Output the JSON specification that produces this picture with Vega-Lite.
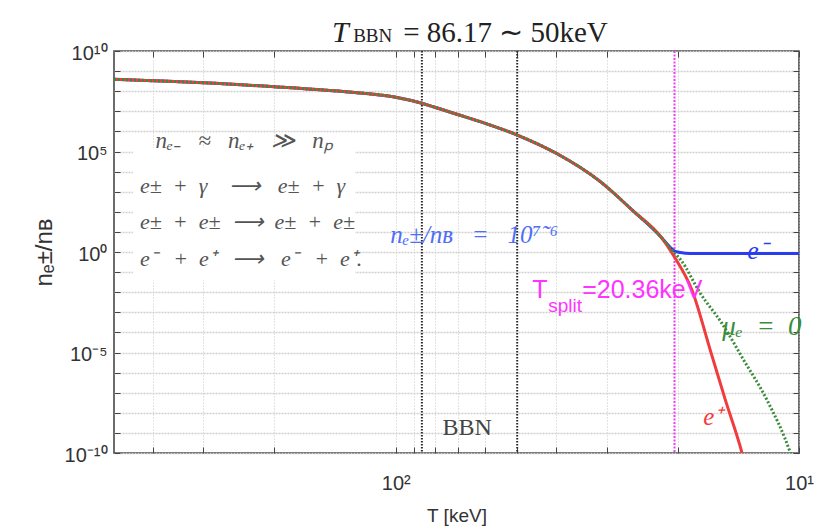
{
  "$schema": "https://vega.github.io/schema/vega-lite/v6.json",
  "width": 685,
  "height": 402,
  "autosize": "none",
  "padding": {"left": 114, "top": 51, "right": 20, "bottom": 78},
  "background": "white",
  "config": {"view": {"stroke": "#3c3c3c", "strokeWidth": 1.5}},
  "datasets": {
    "curves": [
      {"series": "eminus", "T": 500, "n": 3.89e8}, {"series": "eminus", "T": 400, "n": 3.31e8}, {"series": "eminus", "T": 300, "n": 2.63e8}, {"series": "eminus", "T": 200, "n": 1.66e8}, {"series": "eminus", "T": 135, "n": 9.55e7}, {"series": "eminus", "T": 100, "n": 5.01e7}, {"series": "eminus", "T": 86.17, "n": 2.51e7}, {"series": "eminus", "T": 80, "n": 1.585e7}, {"series": "eminus", "T": 70, "n": 6.76e6}, {"series": "eminus", "T": 60, "n": 2.51e6}, {"series": "eminus", "T": 50, "n": 6.61e5}, {"series": "eminus", "T": 40, "n": 8.13e4}, {"series": "eminus", "T": 31.1, "n": 3.16e3}, {"series": "eminus", "T": 25.8, "n": 112}, {"series": "eminus", "T": 22.0, "n": 5.62},
      {"series": "eminus", "T": 20.86, "n": 1.7}, {"series": "eminus", "T": 20.36, "n": 1.12}, {"series": "eminus", "T": 19.7, "n": 0.955}, {"series": "eminus", "T": 18.6, "n": 0.851}, {"series": "eminus", "T": 10, "n": 0.851},
      {"series": "eplus", "T": 500, "n": 3.89e8}, {"series": "eplus", "T": 400, "n": 3.31e8}, {"series": "eplus", "T": 300, "n": 2.63e8}, {"series": "eplus", "T": 200, "n": 1.66e8}, {"series": "eplus", "T": 135, "n": 9.55e7}, {"series": "eplus", "T": 100, "n": 5.01e7}, {"series": "eplus", "T": 86.17, "n": 2.51e7}, {"series": "eplus", "T": 80, "n": 1.585e7}, {"series": "eplus", "T": 70, "n": 6.76e6}, {"series": "eplus", "T": 60, "n": 2.51e6}, {"series": "eplus", "T": 50, "n": 6.61e5}, {"series": "eplus", "T": 40, "n": 8.13e4}, {"series": "eplus", "T": 31.1, "n": 3.16e3}, {"series": "eplus", "T": 25.8, "n": 112}, {"series": "eplus", "T": 22.0, "n": 5.62},
      {"series": "eplus", "T": 20.36, "n": 0.562}, {"series": "eplus", "T": 18.43, "n": 0.0129}, {"series": "eplus", "T": 16.6, "n": 1.32e-5}, {"series": "eplus", "T": 15.23, "n": 4.37e-8}, {"series": "eplus", "T": 13.85, "n": 1.02e-10}, {"series": "eplus", "T": 13.6, "n": 2.5e-11},
      {"series": "mu0", "T": 500, "n": 3.89e8}, {"series": "mu0", "T": 400, "n": 3.31e8}, {"series": "mu0", "T": 300, "n": 2.63e8}, {"series": "mu0", "T": 200, "n": 1.66e8}, {"series": "mu0", "T": 135, "n": 9.55e7}, {"series": "mu0", "T": 100, "n": 5.01e7}, {"series": "mu0", "T": 86.17, "n": 2.51e7}, {"series": "mu0", "T": 80, "n": 1.585e7}, {"series": "mu0", "T": 70, "n": 6.76e6}, {"series": "mu0", "T": 60, "n": 2.51e6}, {"series": "mu0", "T": 50, "n": 6.61e5}, {"series": "mu0", "T": 40, "n": 8.13e4}, {"series": "mu0", "T": 31.1, "n": 3.16e3}, {"series": "mu0", "T": 25.8, "n": 112}, {"series": "mu0", "T": 22.0, "n": 5.62},
      {"series": "mu0", "T": 20.36, "n": 0.891}, {"series": "mu0", "T": 19.7, "n": 0.437}, {"series": "mu0", "T": 17.58, "n": 8.91e-3}, {"series": "mu0", "T": 15.53, "n": 2.82e-4}, {"series": "mu0", "T": 13.72, "n": 4.27e-6}, {"series": "mu0", "T": 12.01, "n": 4.37e-8}, {"series": "mu0", "T": 10.51, "n": 1.02e-10}, {"series": "mu0", "T": 10.3, "n": 3e-11}
    ],
    "vlines": [{"T": 86.17, "kind": "BBN"}, {"T": 50, "kind": "BBN"}, {"T": 20.36, "kind": "split"}],
    "box": [{"T1": 448.7, "T2": 126.2, "n1": 1.49e5, "n2": 0.04}],
    "notes": [
      {"id": "t1", "T": 143.9, "n": 7.94e10, "text": "T"},
      {"id": "t2", "T": 127.6, "n": 5.62e10, "text": "BBN"},
      {"id": "t3", "T": 95.9, "n": 7.94e10, "text": "= 86.17 ∼ 50keV"},
      {"id": "box1", "T": 237.9, "n": 3.33e5, "text": "nₑ₋\u00a0\u00a0\u00a0≈\u00a0\u00a0\u00a0nₑ₊\u00a0\u00a0\u00a0≫\u00a0\u00a0\u00a0nₚ"},
      {"id": "box2", "T": 431, "n": 1920, "text": "e±\u00a0\u00a0+\u00a0\u00a0γ\u00a0\u00a0\u00a0\u00a0⟶\u00a0\u00a0\u00a0e±\u00a0\u00a0+\u00a0\u00a0γ"},
      {"id": "box3", "T": 431, "n": 31.1, "text": "e±\u00a0\u00a0+\u00a0\u00a0e±\u00a0\u00a0⟶\u00a0\u00a0e±\u00a0\u00a0+\u00a0\u00a0e±"},
      {"id": "box4", "T": 431, "n": 0.449, "text": "e⁻\u00a0\u00a0\u00a0+\u00a0\u00a0e⁺\u00a0\u00a0\u00a0⟶\u00a0\u00a0\u00a0e⁻\u00a0\u00a0\u00a0+\u00a0\u00a0e⁺."},
      {"id": "ratio", "T": 103.3, "n": 7.0, "text": "nₑ±/nʙ\u00a0\u00a0\u00a0=\u00a0\u00a0\u00a010⁷˜⁶"},
      {"id": "bbn", "T": 66.5, "n": 1.75e-9, "text": "BBN"},
      {"id": "sT", "T": 45.9, "n": 0.0129, "text": "T"},
      {"id": "ss", "T": 41.9, "n": 0.00206, "text": "split"},
      {"id": "sv", "T": 34.5, "n": 0.0129, "text": "=20.36keV"},
      {"id": "em", "T": 13.44, "n": 1.12, "text": "e⁻"},
      {"id": "mu", "T": 15.5, "n": 1.86e-4, "text": "μₑ\u00a0\u00a0=\u00a0\u00a00"},
      {"id": "ep", "T": 17.28, "n": 6.17e-9, "text": "e⁺"}
    ]
  },
  "layer": [
    {
      "data": {"name": "box"},
      "mark": {"type": "rect", "fill": "white", "stroke": null},
      "encoding": {
        "x": {"field": "T1", "type": "quantitative", "scale": {"type": "log", "domain": [10, 500], "reverse": true, "nice": false}, "axis": null},
        "x2": {"field": "T2"},
        "y": {"field": "n1", "type": "quantitative", "scale": {"type": "log", "domain": [1e-10, 1e10], "nice": false}, "axis": null},
        "y2": {"field": "n2"}
      }
    },
    {
      "data": {"name": "vlines"},
      "transform": [{"filter": "datum.kind == 'BBN'"}],
      "mark": {"type": "rule", "color": "#2a2a2a", "strokeWidth": 2, "strokeDash": [1.5, 1.5]},
      "encoding": {
        "x": {"field": "T", "type": "quantitative", "scale": {"type": "log", "domain": [10, 500], "reverse": true, "nice": false}, "axis": null}
      }
    },
    {
      "data": {"name": "vlines"},
      "transform": [{"filter": "datum.kind == 'split'"}],
      "mark": {"type": "rule", "color": "#f03cf0", "strokeWidth": 2, "strokeDash": [2, 1.5]},
      "encoding": {
        "x": {"field": "T", "type": "quantitative", "scale": {"type": "log", "domain": [10, 500], "reverse": true, "nice": false}, "axis": null}
      }
    },
    {
      "data": {"name": "curves"},
      "transform": [{"filter": "datum.series == 'eminus'"}],
      "mark": {"type": "line", "color": "#2a3cf0", "strokeWidth": 3, "interpolate": "monotone", "clip": true},
      "encoding": {
        "x": {"field": "T", "type": "quantitative", "scale": {"type": "log", "domain": [10, 500], "reverse": true, "nice": false},
          "axis": {"orient": "bottom", "values": [10, 20, 30, 40, 50, 60, 70, 80, 90, 100, 200, 300, 400],
            "labelExpr": "datum.value == 100 ? '10²' : datum.value == 10 ? '10¹' : ''",
            "labelFont": "Liberation Sans", "labelFontSize": 20, "labelColor": "#333", "labelOverlap": false, "labelFlush": false,
            "labelPadding": 26, "tickSize": -6, "tickColor": "#444", "tickWidth": 1, "domain": false,
            "grid": true, "gridColor": "#c4c4c4", "gridDash": [1, 2], "gridWidth": 1,
            "title": "T [keV]", "titleFont": "Liberation Sans", "titleFontSize": 19, "titleFontWeight": "normal", "titleColor": "#333", "titlePadding": 13}},
        "y": {"field": "n", "type": "quantitative", "scale": {"type": "log", "domain": [1e-10, 1e10], "nice": false},
          "axis": {"orient": "left", "values": [1e-10, 1e-9, 1e-8, 1e-7, 1e-6, 1e-5, 1e-4, 1e-3, 1e-2, 1e-1, 1, 10, 100, 1e3, 1e4, 1e5, 1e6, 1e7, 1e8, 1e9, 1e10],
            "labelExpr": "datum.value == 1e10 ? '10¹⁰' : datum.value == 1e5 ? '10⁵' : datum.value == 1 ? '10⁰' : datum.value == 1e-5 ? '10⁻⁵' : datum.value == 1e-10 ? '10⁻¹⁰' : ''",
            "labelFont": "Liberation Sans", "labelFontSize": 20, "labelColor": "#333", "labelOverlap": false, "labelFlush": false,
            "labelPadding": 13, "labelOffset": 2, "tickSize": -6, "tickColor": "#444", "tickWidth": 1, "domain": false,
            "grid": true, "gridColor": "#d0d0d0", "gridDash": [2, 1], "gridWidth": 1.5,
            "title": "nₑ±/nʙ", "titleFont": "Liberation Sans", "titleFontSize": 24, "titleFontWeight": "normal", "titleColor": "#333", "titlePadding": 8}}
      }
    },
    {
      "data": {"name": "curves"},
      "transform": [{"filter": "datum.series == 'eplus'"}],
      "mark": {"type": "line", "color": "#f03c3c", "strokeWidth": 3, "interpolate": "monotone", "clip": true},
      "encoding": {
        "x": {"field": "T", "type": "quantitative", "scale": {"type": "log", "domain": [10, 500], "reverse": true, "nice": false},
          "axis": {"orient": "top", "values": [10, 20, 30, 40, 50, 60, 70, 80, 90, 100, 200, 300, 400], "labels": false, "tickSize": -6, "tickColor": "#444", "domain": false, "grid": false, "title": null}},
        "y": {"field": "n", "type": "quantitative", "scale": {"type": "log", "domain": [1e-10, 1e10], "nice": false},
          "axis": {"orient": "right", "values": [1e-10, 1e-9, 1e-8, 1e-7, 1e-6, 1e-5, 1e-4, 1e-3, 1e-2, 1e-1, 1, 10, 100, 1e3, 1e4, 1e5, 1e6, 1e7, 1e8, 1e9, 1e10], "labels": false, "tickSize": -6, "tickColor": "#444", "domain": false, "grid": false, "title": null}}
      }
    },
    {
      "data": {"name": "curves"},
      "transform": [{"filter": "datum.series == 'mu0'"}],
      "mark": {"type": "line", "color": "#3a8c3a", "strokeWidth": 3, "strokeDash": [2, 2], "interpolate": "monotone", "clip": true},
      "encoding": {
        "x": {"field": "T", "type": "quantitative", "scale": {"type": "log", "domain": [10, 500], "reverse": true, "nice": false}, "axis": null},
        "y": {"field": "n", "type": "quantitative", "scale": {"type": "log", "domain": [1e-10, 1e10], "nice": false}, "axis": null}
      }
    },
    {
      "data": {"name": "notes"},
      "transform": [{"filter": "datum.id == 't1'"}],
      "mark": {"type": "text", "align": "left", "font": "Liberation Serif", "fontStyle": "italic", "fontSize": 30, "color": "#222"},
      "encoding": {
        "x": {"field": "T", "type": "quantitative", "scale": {"type": "log", "domain": [10, 500], "reverse": true, "nice": false}, "axis": null},
        "y": {"field": "n", "type": "quantitative", "scale": {"type": "log", "domain": [1e-10, 1e10], "nice": false}, "axis": null},
        "text": {"field": "text"}
      }
    },
    {
      "data": {"name": "notes"},
      "transform": [{"filter": "datum.id == 't2'"}],
      "mark": {"type": "text", "align": "left", "font": "Liberation Serif", "fontSize": 19, "color": "#222"},
      "encoding": {
        "x": {"field": "T", "type": "quantitative", "scale": {"type": "log", "domain": [10, 500], "reverse": true, "nice": false}, "axis": null},
        "y": {"field": "n", "type": "quantitative", "scale": {"type": "log", "domain": [1e-10, 1e10], "nice": false}, "axis": null},
        "text": {"field": "text"}
      }
    },
    {
      "data": {"name": "notes"},
      "transform": [{"filter": "datum.id == 't3'"}],
      "mark": {"type": "text", "align": "left", "font": "Liberation Serif", "fontSize": 29, "color": "#222"},
      "encoding": {
        "x": {"field": "T", "type": "quantitative", "scale": {"type": "log", "domain": [10, 500], "reverse": true, "nice": false}, "axis": null},
        "y": {"field": "n", "type": "quantitative", "scale": {"type": "log", "domain": [1e-10, 1e10], "nice": false}, "axis": null},
        "text": {"field": "text"}
      }
    },
    {
      "data": {"name": "notes"},
      "transform": [{"filter": "datum.id == 'box1'"}],
      "mark": {"type": "text", "align": "center", "font": "Liberation Serif", "fontStyle": "italic", "fontSize": 23, "color": "#555"},
      "encoding": {
        "x": {"field": "T", "type": "quantitative", "scale": {"type": "log", "domain": [10, 500], "reverse": true, "nice": false}, "axis": null},
        "y": {"field": "n", "type": "quantitative", "scale": {"type": "log", "domain": [1e-10, 1e10], "nice": false}, "axis": null},
        "text": {"field": "text"}
      }
    },
    {
      "data": {"name": "notes"},
      "transform": [{"filter": "indexof(['box2','box3','box4'], datum.id) >= 0"}],
      "mark": {"type": "text", "align": "left", "font": "Liberation Serif", "fontStyle": "italic", "fontSize": 22, "color": "#555"},
      "encoding": {
        "x": {"field": "T", "type": "quantitative", "scale": {"type": "log", "domain": [10, 500], "reverse": true, "nice": false}, "axis": null},
        "y": {"field": "n", "type": "quantitative", "scale": {"type": "log", "domain": [1e-10, 1e10], "nice": false}, "axis": null},
        "text": {"field": "text"}
      }
    },
    {
      "data": {"name": "notes"},
      "transform": [{"filter": "datum.id == 'ratio'"}],
      "mark": {"type": "text", "align": "left", "font": "Liberation Serif", "fontStyle": "italic", "fontSize": 25, "color": "#4f6ef7"},
      "encoding": {
        "x": {"field": "T", "type": "quantitative", "scale": {"type": "log", "domain": [10, 500], "reverse": true, "nice": false}, "axis": null},
        "y": {"field": "n", "type": "quantitative", "scale": {"type": "log", "domain": [1e-10, 1e10], "nice": false}, "axis": null},
        "text": {"field": "text"}
      }
    },
    {
      "data": {"name": "notes"},
      "transform": [{"filter": "datum.id == 'bbn'"}],
      "mark": {"type": "text", "align": "center", "font": "Liberation Serif", "fontSize": 24, "color": "#444"},
      "encoding": {
        "x": {"field": "T", "type": "quantitative", "scale": {"type": "log", "domain": [10, 500], "reverse": true, "nice": false}, "axis": null},
        "y": {"field": "n", "type": "quantitative", "scale": {"type": "log", "domain": [1e-10, 1e10], "nice": false}, "axis": null},
        "text": {"field": "text"}
      }
    },
    {
      "data": {"name": "notes"},
      "transform": [{"filter": "datum.id == 'sT' || datum.id == 'sv'"}],
      "mark": {"type": "text", "align": "left", "font": "Liberation Sans", "fontSize": 25, "color": "#ff33ff"},
      "encoding": {
        "x": {"field": "T", "type": "quantitative", "scale": {"type": "log", "domain": [10, 500], "reverse": true, "nice": false}, "axis": null},
        "y": {"field": "n", "type": "quantitative", "scale": {"type": "log", "domain": [1e-10, 1e10], "nice": false}, "axis": null},
        "text": {"field": "text"}
      }
    },
    {
      "data": {"name": "notes"},
      "transform": [{"filter": "datum.id == 'ss'"}],
      "mark": {"type": "text", "align": "left", "font": "Liberation Sans", "fontSize": 19, "color": "#ff33ff"},
      "encoding": {
        "x": {"field": "T", "type": "quantitative", "scale": {"type": "log", "domain": [10, 500], "reverse": true, "nice": false}, "axis": null},
        "y": {"field": "n", "type": "quantitative", "scale": {"type": "log", "domain": [1e-10, 1e10], "nice": false}, "axis": null},
        "text": {"field": "text"}
      }
    },
    {
      "data": {"name": "notes"},
      "transform": [{"filter": "datum.id == 'em'"}],
      "mark": {"type": "text", "align": "left", "font": "Liberation Serif", "fontStyle": "italic", "fontSize": 26, "color": "#2a3cf0"},
      "encoding": {
        "x": {"field": "T", "type": "quantitative", "scale": {"type": "log", "domain": [10, 500], "reverse": true, "nice": false}, "axis": null},
        "y": {"field": "n", "type": "quantitative", "scale": {"type": "log", "domain": [1e-10, 1e10], "nice": false}, "axis": null},
        "text": {"field": "text"}
      }
    },
    {
      "data": {"name": "notes"},
      "transform": [{"filter": "datum.id == 'mu'"}],
      "mark": {"type": "text", "align": "left", "font": "Liberation Serif", "fontStyle": "italic", "fontSize": 27, "color": "#3a8c3a"},
      "encoding": {
        "x": {"field": "T", "type": "quantitative", "scale": {"type": "log", "domain": [10, 500], "reverse": true, "nice": false}, "axis": null},
        "y": {"field": "n", "type": "quantitative", "scale": {"type": "log", "domain": [1e-10, 1e10], "nice": false}, "axis": null},
        "text": {"field": "text"}
      }
    },
    {
      "data": {"name": "notes"},
      "transform": [{"filter": "datum.id == 'ep'"}],
      "mark": {"type": "text", "align": "left", "font": "Liberation Serif", "fontStyle": "italic", "fontSize": 25, "color": "#f03c3c"},
      "encoding": {
        "x": {"field": "T", "type": "quantitative", "scale": {"type": "log", "domain": [10, 500], "reverse": true, "nice": false}, "axis": null},
        "y": {"field": "n", "type": "quantitative", "scale": {"type": "log", "domain": [1e-10, 1e10], "nice": false}, "axis": null},
        "text": {"field": "text"}
      }
    }
  ]
}
